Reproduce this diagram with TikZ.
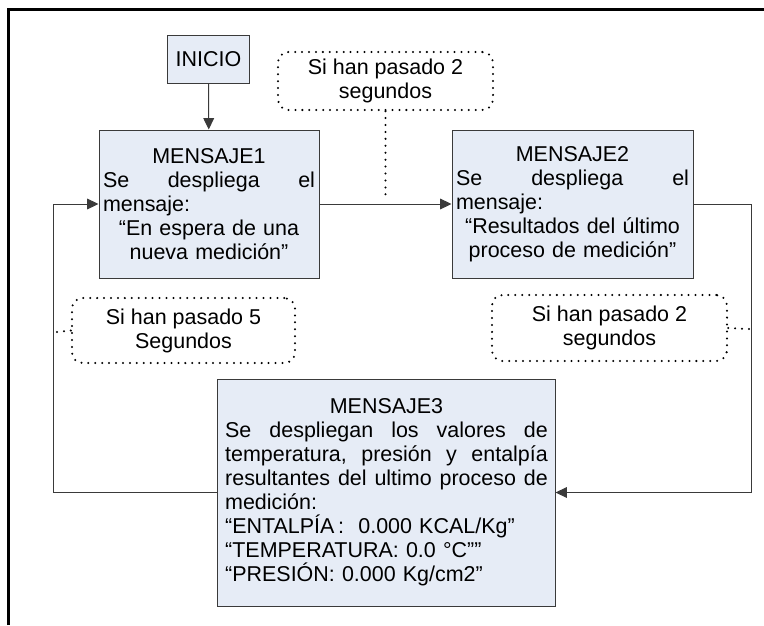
\documentclass[tikz,border=0pt]{standalone}
\usepackage{fontspec}
\setmainfont{Liberation Sans}
\usetikzlibrary{arrows.meta}
\definecolor{boxfill}{HTML}{E6ECF6}
\definecolor{edgecol}{HTML}{3A3A3A}
\newcommand{\jline}[2]{\makebox[#1][l]{#2}}
\begin{document}
\begin{tikzpicture}[x=0.75pt,y=-0.75pt,
  font=\fontsize{16.1pt}{18pt}\selectfont,
  box/.style={draw=edgecol, fill=boxfill, line width=0.75pt, inner ysep=0pt, align=center},
  callout/.style={draw=black, line width=1.7pt, line cap=round, dash pattern=on 0pt off 5.2pt,
    rounded corners=8pt, align=center, inner sep=0pt},
  dotline/.style={draw=black, line width=1.7pt, line cap=round, dash pattern=on 0pt off 5.2pt},
  conn/.style={draw=edgecol, line width=0.75pt},
  tip/.style={-{Triangle[length=8.5pt,width=8pt]}}]
\useasboundingbox (0,0) rectangle (764,625);
\fill[white] (0,0) rectangle (764,625);
% frame
\draw[line width=2.25pt] (8.5,625) -- (8.5,9.5) -- (764,9.5);

% nodes
\node[box, minimum width=61.5pt, minimum height=36pt, inner xsep=0pt] (inicio) at (208.5,59) {INICIO};

\node[box, text width=159pt, inner xsep=3pt, minimum height=111pt] (m1) at (209,204) {%
MENSAJE1\\
\jline{159pt}{Se\hfill despliega\hfill el}\\
\jline{159pt}{mensaje:}\\
“En espera de una\\
nueva medición”};

\node[box, text width=174.75pt, inner xsep=3pt, minimum height=111pt] (m2) at (572.5,204) {%
MENSAJE2\\
\jline{174.75pt}{Se\hfill despliega\hfill el}\\
\jline{174.75pt}{mensaje:}\\
“Resultados del último\\
proceso de medición”};

\node[box, text width=242pt, inner xsep=5.4pt, minimum height=170.25pt] (m3) at (386.5,492.5) {%
MENSAJE3\\
\jline{242pt}{Se\hfill despliegan\hfill los\hfill valores\hfill de}\\
\jline{242pt}{temperatura,\hfill presión\hfill y\hfill entalpía}\\
\jline{242pt}{resultantes\hfill del\hfill ultimo\hfill proceso\hfill de}\\
\jline{242pt}{medición:}\\
\jline{242pt}{“ENTALPÍA\,:\ \ 0.000 KCAL/Kg”}\\
\jline{242pt}{“TEMPERATURA: 0.0 °C””}\\
\jline{242pt}{“PRESIÓN: 0.000 Kg/cm2”}};

\node[callout, minimum width=161.25pt, minimum height=43.5pt] (c1) at (385.5,81) {Si han pasado 2\\segundos};
\node[callout, minimum width=167.25pt, minimum height=48.75pt] (c5) at (183.5,330.5) {Si han pasado 5\\Segundos};
\node[callout, minimum width=176.25pt, minimum height=49.5pt] (c2) at (609.5,328) {Si han pasado 2\\segundos};

% helper coordinates
\coordinate (lt) at (53,204);
\coordinate (lb) at (53,492.5);
\coordinate (rt) at (751,204);
\coordinate (rb) at (751,492.5);
\coordinate (d1) at (385.5,198);
\coordinate (d5) at (57,332);
\coordinate (d2) at (749,329);

% connectors
\draw[conn, tip] (inicio) -- (m1);
\draw[conn, tip] (m1) -- (m2);
\draw[conn, tip] (m2.east) -- (rt) -- (rb) -- (m3.east);
\draw[conn, tip] (m3.west) -- (lb) -- (lt) -- (m1.west);

\draw[dotline] (c1.south) -- (d1);
\draw[dotline] (c5.west) -- (d5);
\draw[dotline] (c2.east) -- (d2);
\end{tikzpicture}
\end{document}
